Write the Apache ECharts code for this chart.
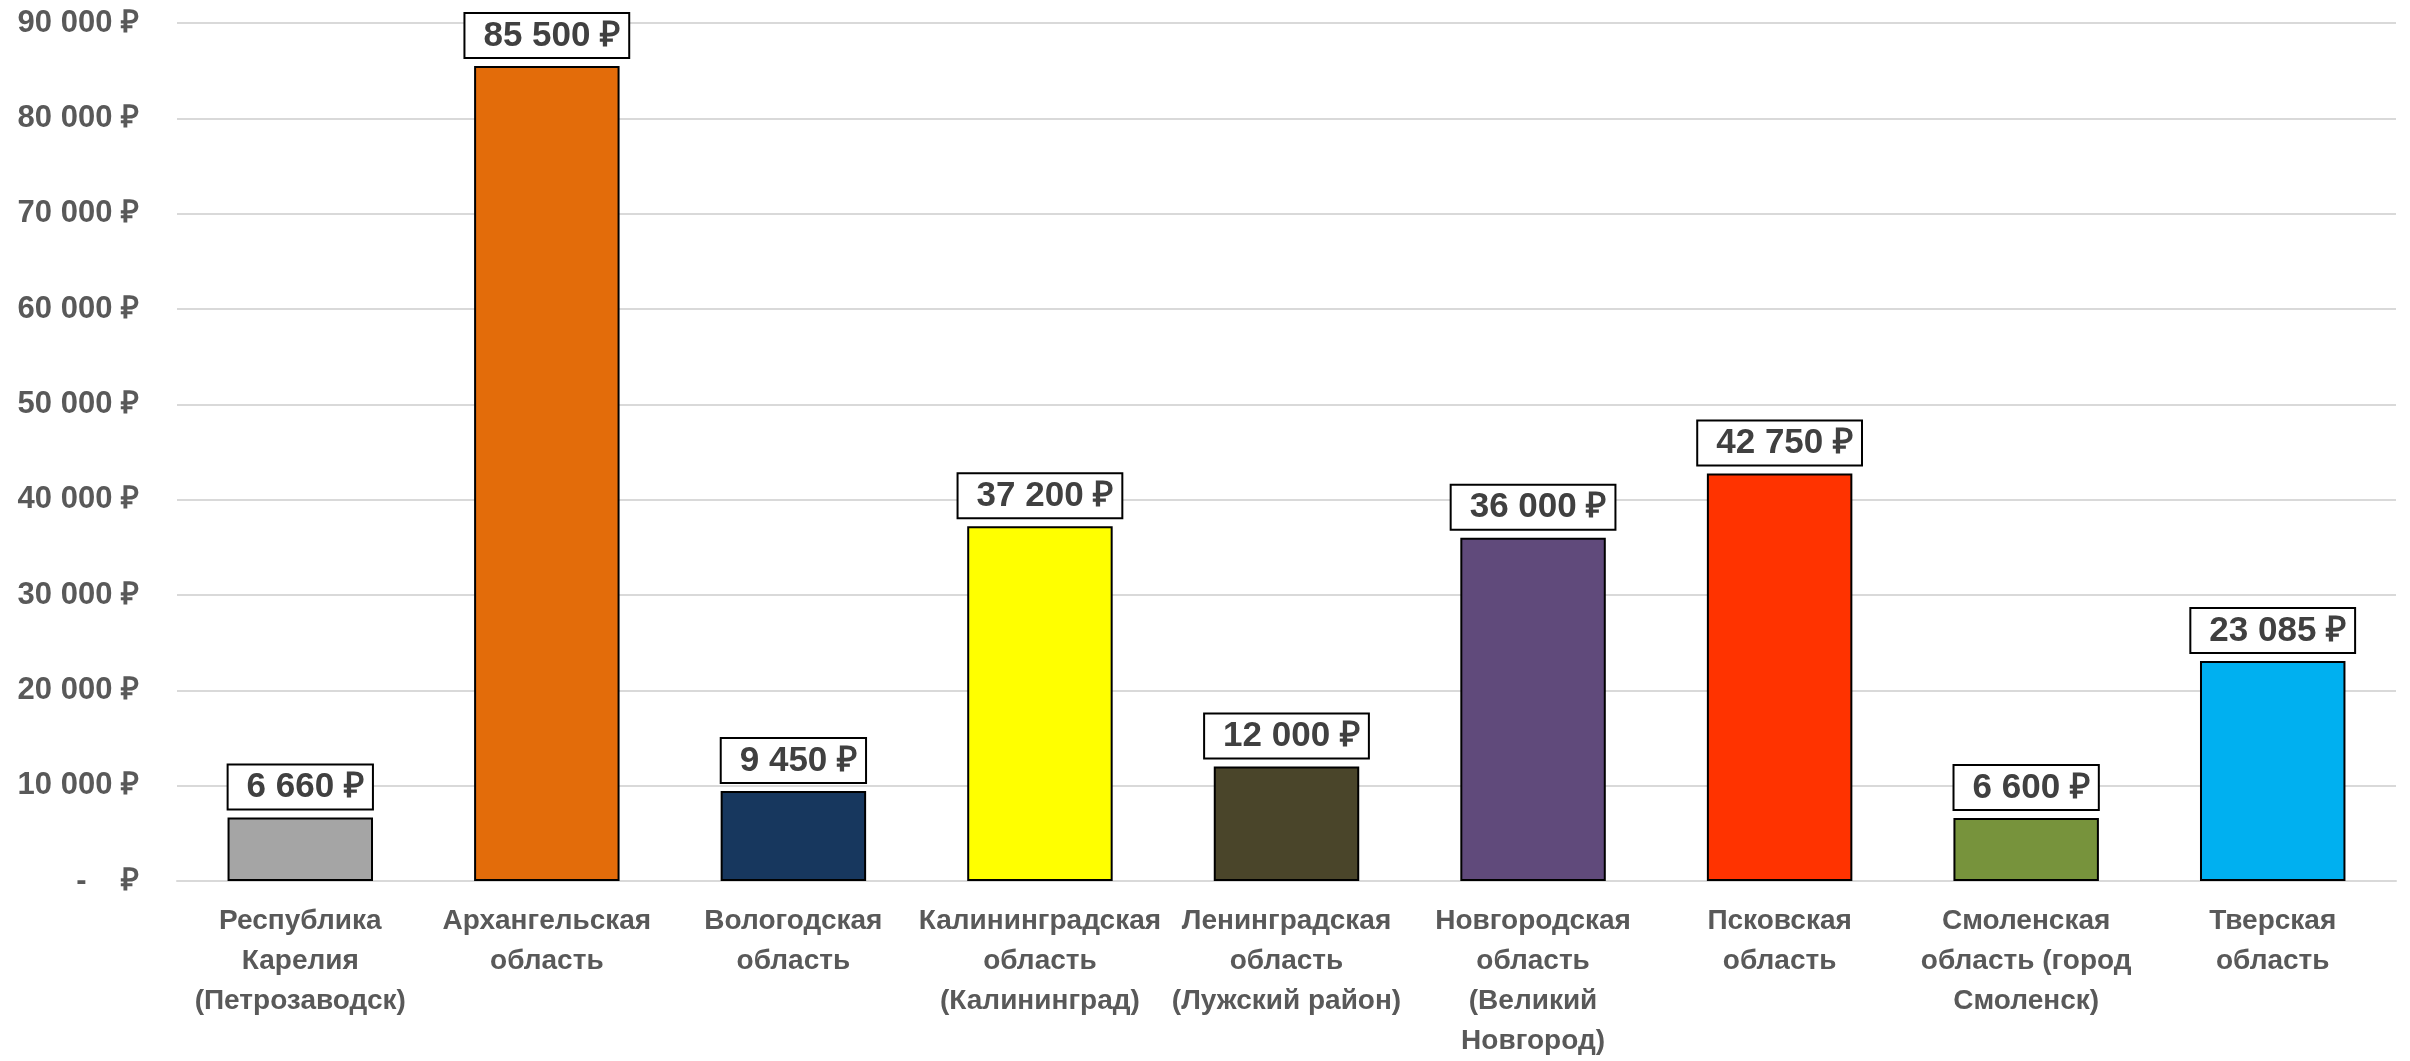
<!DOCTYPE html>
<html>
<head>
<meta charset="utf-8">
<script src="https://cdn.jsdelivr.net/npm/echarts@6/dist/echarts.min.js"></script>
<style>
html,body{margin:0;padding:0;background:#fff;}
#chart{width:2410px;height:1061px;}
</style>
</head>
<body>
<div id="chart"></div>
<script>
const categories = [
  "Республика\nКарелия\n(Петрозаводск)",
  "Архангельская\nобласть",
  "Вологодская\nобласть",
  "Калининградская\nобласть\n(Калининград)",
  "Ленинградская\nобласть\n(Лужский район)",
  "Новгородская\nобласть\n(Великий\nНовгород)",
  "Псковская\nобласть",
  "Смоленская\nобласть (город\nСмоленск)",
  "Тверская\nобласть"
];
const values = [6660, 85500, 9450, 37200, 12000, 36000, 42750, 6600, 23085];
const barColors = ["#A5A5A5", "#E36C0A", "#17375E", "#FFFF00", "#4A452A", "#604A7B", "#FF3300", "#77933C", "#00B0F0"];
const yMin = 0, yMax = 90000, yStep = 10000;

function fmt(v) {
  if (v === 0) return "-    ₽";
  return String(Math.round(v)).replace(/\B(?=(\d{3})+(?!\d))/g, " ") + " ₽";
}

const chart = echarts.init(document.getElementById('chart'), null, {renderer: 'canvas'});
const FONT = '"Liberation Sans", Arial, sans-serif';
chart.setOption({
  animation: false,
  backgroundColor: '#fff',
  grid: {left: 177, right: 14, top: 23, bottom: 180, containLabel: false},
  xAxis: {
    type: 'category',
    data: categories,
    axisLine: {show: true, lineStyle: {color: '#D9D9D9', width: 2}},
    axisTick: {show: false},
    axisLabel: {
      interval: 0, margin: 20,
      color: '#595959', fontFamily: FONT, fontWeight: 'bold', fontSize: 28, lineHeight: 40
    }
  },
  yAxis: {
    type: 'value', min: yMin, max: yMax, interval: yStep,
    axisLine: {show: false}, axisTick: {show: false},
    splitLine: {lineStyle: {color: '#D9D9D9', width: 2}},
    axisLabel: {
      formatter: fmt, margin: 38,
      color: '#595959', fontFamily: FONT, fontWeight: 'bold', fontSize: 31
    }
  },
  series: [{
    type: 'bar',
    data: values.map((v, i) => ({value: v, itemStyle: {color: barColors[i]}})),
    barCategoryGap: '41%',
    itemStyle: {borderColor: '#000', borderWidth: 2},
    label: {
      show: true, position: 'top', distance: 9,
      formatter: p => fmt(p.value),
      color: '#404040', fontFamily: FONT, fontWeight: 'bold', fontSize: 35, lineHeight: 36,
      backgroundColor: '#fff', borderColor: '#000', borderWidth: 2,
      padding: [4, 8, 3, 18]
    }
  }]
});
</script>
</body>
</html>
